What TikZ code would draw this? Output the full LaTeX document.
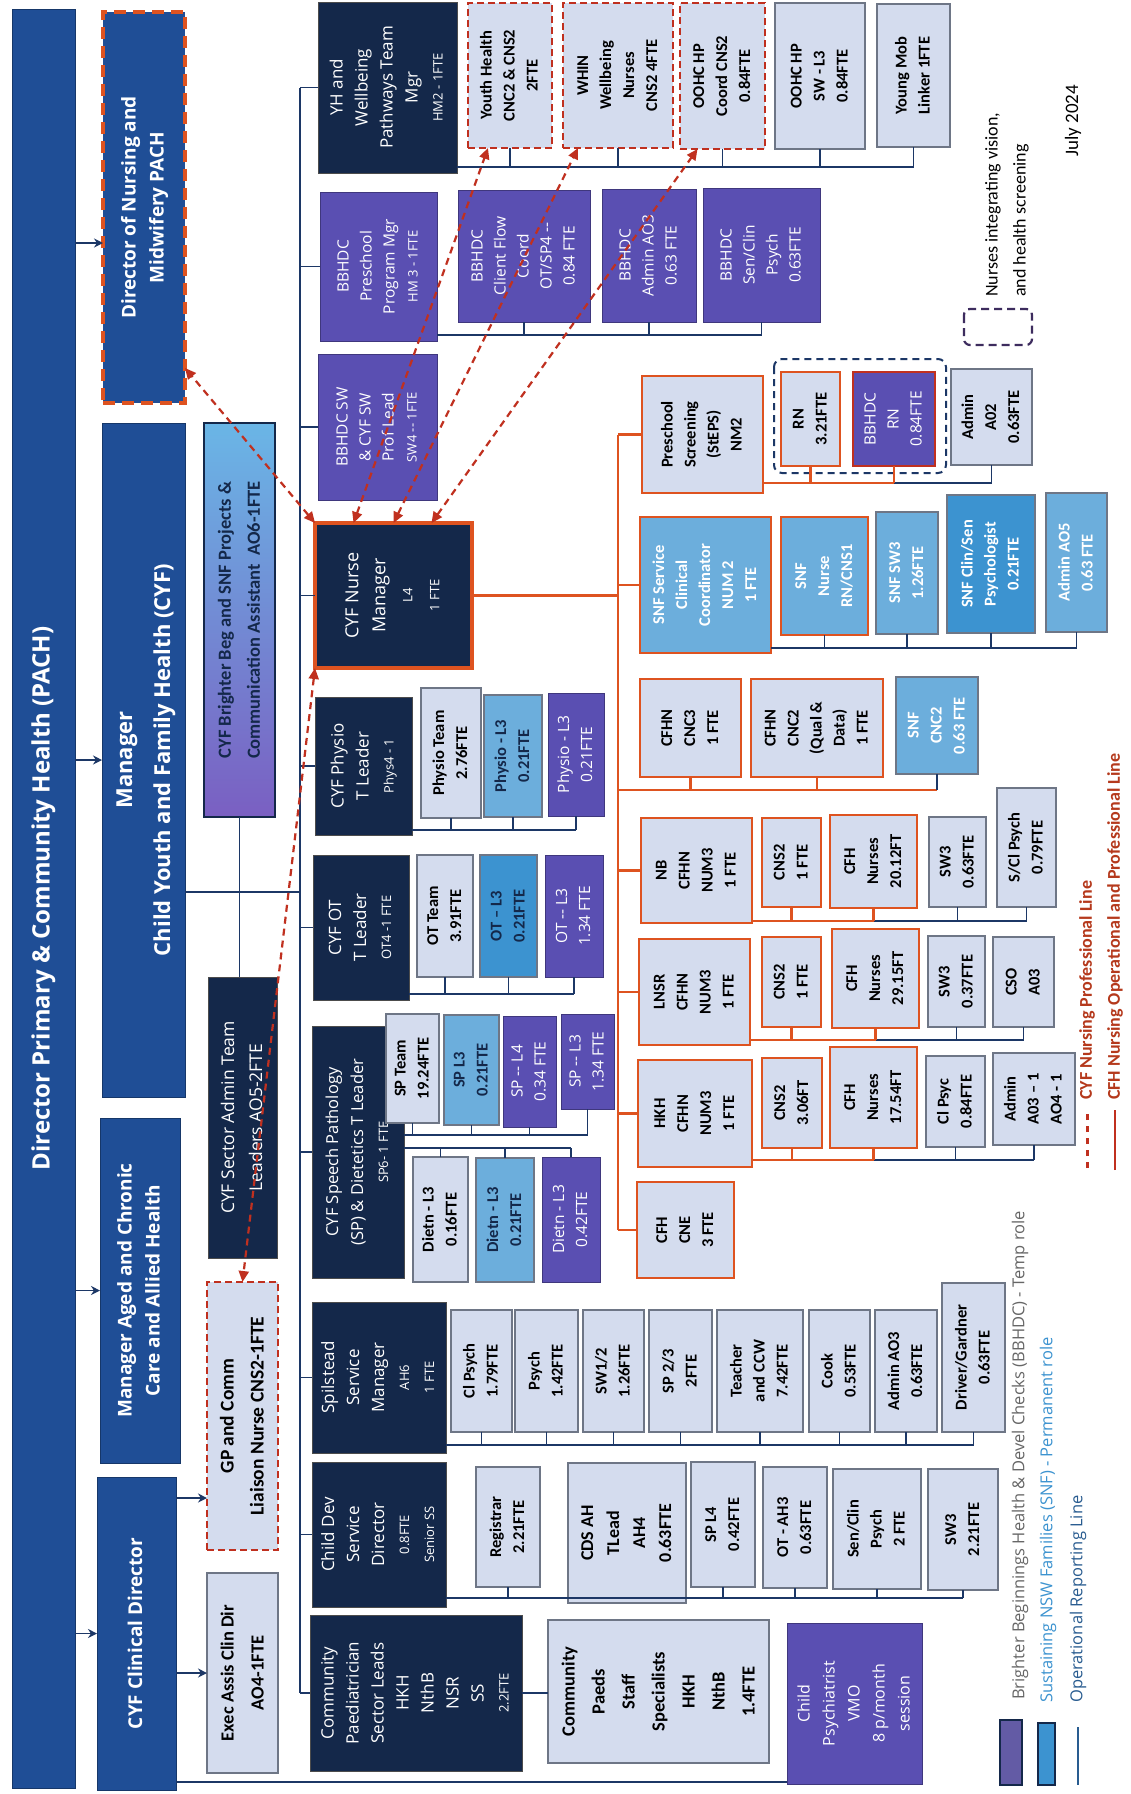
\documentclass[tikz,border=0pt]{standalone}
\usepackage{fontspec}
\setmainfont{Carlito}
\newfontfamily\osans{Open Sans}
\usepackage{graphicx}
\usetikzlibrary{arrows.meta}
\definecolor{cblue}{HTML}{1F4E96}
\definecolor{cnavy}{HTML}{14284A}
\definecolor{cpurp}{HTML}{5A4FB2}
\definecolor{cpale}{HTML}{D4DCEE}
\definecolor{cgrey}{HTML}{6E7686}
\definecolor{csnf}{HTML}{6CAEDC}
\definecolor{csnfd}{HTML}{3C93D0}
\definecolor{corange}{HTML}{DE5320}
\definecolor{cred}{HTML}{C0301F}
\definecolor{cline}{HTML}{1C3766}
\definecolor{csky}{HTML}{6AB6E6}
\definecolor{clav}{HTML}{7A5FC2}
\definecolor{ctxt}{HTML}{B5391C}

\newcommand{\vt}[1]{\rotatebox{90}{\begin{tabular}{@{}c@{}}#1\end{tabular}}}
\newcommand{\sm}{\fontsize{13}{16}\selectfont}

\tikzset{
    boxat/.style n args={4}{
           at={({(#1+#3)/2},{(#2+#4)/2})},
           minimum width={(#3-#1)*1pt},
           minimum height={(#4-#2)*1pt},
           },
    orgbase/.style={draw, inner sep=0pt, outer sep=0pt},
    mgrbox/.style={orgbase, fill=cblue, draw=cblue!70!black, text=white,
           font=\osans\bfseries\fontsize{19}{28}\selectfont},
    navybox/.style={orgbase, fill=cnavy, draw=black!70, text=white,
           font=\osans\fontsize{17}{25}\selectfont},
    purpbox/.style={orgbase, fill=cpurp, draw=cpurp!70!black, text=white,
           font=\osans\fontsize{15.5}{23}\selectfont},
    palebox/.style={orgbase, fill=cpale, draw=cgrey, line width=1.2pt,
           font=\bfseries\fontsize{16.5}{23}\selectfont},
    snfbox/.style={palebox, fill=csnf},
    snfdbox/.style={palebox, fill=csnfd},
    nursebox/.style={palebox, draw=corange, line width=2.4pt},
    tempbox/.style={palebox, draw=cred, line width=2.4pt, dash pattern=on 7pt off 4pt},
    opline/.style={draw=cline, line width=1.8pt},
    nline/.style={draw=corange, line width=2.8pt},
    report/.style={opline, -{Stealth[length=9pt,width=9pt]}},
    profline/.style={draw=cred, line width=2.2pt, dash pattern=on 7pt off 5pt,
           {Triangle[length=11pt,width=10pt]}-{Triangle[length=11pt,width=10pt]}},
    legend/.style={inner sep=0pt, font=\osans\fontsize{16.5}{20}\selectfont},
}

\begin{document}
\begin{tikzpicture}[x=1pt, y=-1pt]
	\useasboundingbox[fill=white] (0,0) rectangle (1130,1794);

	% directors and managers
	\node[mgrbox, boxat={12}{9}{75}{1788}, font=\osans\bfseries\fontsize{24}{30}\selectfont] (pach)
		{\vt{Director Primary \& Community Health (PACH)}};
	\node[mgrbox, boxat={103}{12}{185}{403}, draw=corange, line width=4pt,
		dash pattern=on 12pt off 7pt] (dnm) {\vt{Director of Nursing and\\Midwifery PACH}};
	\node[mgrbox, boxat={102}{423}{185}{1097}, font=\osans\bfseries\fontsize{22}{38}\selectfont] (mcyf)
		{\vt{Manager\\Child Youth and Family Health (CYF)}};
	\node[mgrbox, boxat={100}{1118}{180}{1463}] (magd) {\vt{Manager Aged and Chronic\\Care and Allied Health}};
	\node[mgrbox, boxat={97}{1477}{176}{1790}] (mclin) {\vt{CYF Clinical Director}};

	% second column
	\node[palebox, boxat={204}{423}{275}{817}, top color=csky, bottom color=clav, draw=cnavy,
		text=cnavy, font=\bfseries\fontsize{18.5}{29}\selectfont] (brt)
		{\vt{CYF Brighter Beg and SNF Projects \&\\Communication Assistant\ \ AO6-1FTE}};
	\node[navybox, boxat={208}{977}{277}{1258}, font=\osans\fontsize{17.5}{28}\selectfont] (sadm)
		{\vt{CYF Sector Admin Team\\Leaders AO5-2FTE}};
	\node[tempbox, boxat={207}{1282}{278}{1550}, font=\bfseries\fontsize{19.5}{30}\selectfont] (gp)
		{\vt{GP and Comm\\Liaison Nurse CNS2-1FTE}};
	\node[palebox, boxat={207}{1573}{278}{1773}, font=\bfseries\fontsize{18.5}{30}\selectfont] (exa)
		{\vt{Exec Assis Clin Dir\\AO4-1FTE}};

	% team leaders
	\node[navybox, boxat={318}{2}{457}{173}] (yh) {\vt{YH and\\Wellbeing\\Pathways Team\\Mgr\\{\sm HM2 - 1FTE}}};
	\node[purpbox, boxat={320}{192}{437}{341}] (bpre) {\vt{BBHDC\\Preschool\\Program Mgr\\{\sm HM 3 - 1FTE}}};
	\node[purpbox, boxat={318}{354}{437}{500}] (bsw) {\vt{BBHDC SW\\\& CYF SW\\Prof Lead\\{\sm SW4 -- 1FTE}}};
	\node[navybox, boxat={315}{523}{472}{668}, draw=corange, line width=4pt, font=\osans\fontsize{18}{27}\selectfont] (nm)
		{\vt{CYF Nurse\\Manager\\{\sm L4}\\{\sm 1 FTE}}};
	\node[navybox, boxat={315}{697}{412}{835}] (phl) {\vt{CYF Physio\\T Leader\\{\sm Phys4 - 1}}};
	\node[navybox, boxat={313}{855}{409}{1000}] (otl) {\vt{CYF OT\\T Leader\\{\sm OT4 -1 FTE}}};
	\node[navybox, boxat={312}{1026}{404}{1278}, font=\osans\fontsize{16.5}{25}\selectfont] (spl)
		{\vt{CYF Speech Pathology\\(SP) \& Dietetics T Leader\\{\sm SP6- 1 FTE}}};
	\node[navybox, boxat={312}{1302}{446}{1453}] (sps) {\vt{Spilstead\\Service\\Manager\\{\sm AH6}\\{\sm 1 FTE}}};
	\node[navybox, boxat={312}{1462}{446}{1607}] (cds) {\vt{Child Dev\\Service\\Director\\{\sm 0.8FTE}\\{\sm Senior SS}}};
	\node[navybox, boxat={310}{1615}{522}{1771}] (cpl)
		{\vt{Community\\Paediatrician\\Sector Leads\\HKH\\NthB\\NSR\\SS\\{\sm 2.2FTE}}};

	% youth health team
	\node[tempbox, boxat={468}{3}{552}{148}] (yth) {\vt{Youth Health\\CNC2 \& CNS2\\2FTE}};
	\node[tempbox, boxat={563}{3}{673}{148}] (whin) {\vt{WHIN\\Wellbeing\\Nurses\\CNS2 4FTE}};
	\node[tempbox, boxat={680}{3}{765}{149}] (oohc) {\vt{OOHC HP\\Coord CNS2\\0.84FTE}};
	\node[palebox, boxat={775}{3}{865}{149}] (oosw) {\vt{OOHC HP\\SW - L3\\0.84FTE}};
	\node[palebox, boxat={877}{4}{950}{147}] (ymob) {\vt{Young Mob\\Linker 1FTE}};

	% BBHDC team
	\node[purpbox, boxat={458}{190}{590}{322}] (bcf) {\vt{BBHDC\\Client Flow\\Coord\\OT/SP4 --\\0.84 FTE}};
	\node[purpbox, boxat={602}{189}{696}{322}] (bad) {\vt{BBHDC\\Admin AO3\\0.63 FTE}};
	\node[purpbox, boxat={703}{188}{820}{322}] (bps) {\vt{BBHDC\\Sen/Clin\\Psych\\0.63FTE}};

	% physio, OT, speech
	\node[palebox, boxat={421}{688}{481}{818}] (ph1) {\vt{Physio Team\\2.76FTE}};
	\node[snfbox, boxat={484}{695}{542}{817}, text=cnavy] (ph2) {\vt{Physio - L3\\0.21FTE}};
	\node[purpbox, boxat={548}{693}{604}{816}] (ph3) {\vt{Physio - L3\\0.21FTE}};
	\node[palebox, boxat={417}{855}{473}{977}] (ot1) {\vt{OT Team\\3.91FTE}};
	\node[snfdbox, boxat={480}{855}{537}{977}, text=cnavy] (ot2) {\vt{OT -- L3\\0.21FTE}};
	\node[purpbox, boxat={545}{855}{603}{977}] (ot3) {\vt{OT -- L3\\1.34 FTE}};
	\node[palebox, boxat={386}{1014}{439}{1123}] (sp1) {\vt{SP Team\\19.24FTE}};
	\node[snfbox, boxat={444}{1015}{499}{1125}, text=cnavy] (sp2) {\vt{SP L3\\0.21FTE}};
	\node[purpbox, boxat={503}{1016}{556}{1127}] (sp3) {\vt{SP -- L4\\0.34 FTE}};
	\node[purpbox, boxat={561}{1014}{614}{1109}] (sp4) {\vt{SP -- L3\\1.34 FTE}};
	\node[palebox, boxat={413}{1157}{468}{1282}] (dt1) {\vt{Dietn - L3\\0.16FTE}};
	\node[snfbox, boxat={476}{1158}{534}{1282}, text=cnavy] (dt2) {\vt{Dietn - L3\\0.21FTE}};
	\node[purpbox, boxat={542}{1157}{600}{1282}] (dt3) {\vt{Dietn - L3\\0.42FTE}};

	% spilstead team
	\node[palebox, boxat={451}{1310}{512}{1432}] (s1) {\vt{Cl Psych\\1.79FTE}};
	\node[palebox, boxat={515}{1310}{578}{1432}] (s2) {\vt{Psych\\1.42FTE}};
	\node[palebox, boxat={583}{1310}{644}{1432}] (s3) {\vt{SW1/2\\1.26FTE}};
	\node[palebox, boxat={649}{1310}{712}{1432}] (s4) {\vt{SP 2/3\\2FTE}};
	\node[palebox, boxat={717}{1310}{803}{1432}] (s5) {\vt{Teacher\\and CCW\\7.42FTE}};
	\node[palebox, boxat={809}{1310}{870}{1432}] (s6) {\vt{Cook\\0.53FTE}};
	\node[palebox, boxat={875}{1310}{937}{1432}] (s7) {\vt{Admin AO3\\0.63FTE}};
	\node[palebox, boxat={942}{1283}{1005}{1432}] (s8) {\vt{Driver/Gardner\\0.63FTE}};

	% child development team
	\node[palebox, boxat={476}{1467}{540}{1587}] (c1) {\vt{Registrar\\2.21FTE}};
	\node[palebox, boxat={568}{1463}{686}{1603}, font=\bfseries\fontsize{18}{26}\selectfont] (c2) {\vt{CDS AH\\TLead\\AH4\\0.63FTE}};
	\node[palebox, boxat={691}{1462}{755}{1587}] (c3) {\vt{SP L4\\0.42FTE}};
	\node[palebox, boxat={763}{1467}{827}{1588}] (c4) {\vt{OT - AH3\\0.63FTE}};
	\node[palebox, boxat={833}{1469}{921}{1589}] (c5) {\vt{Sen/Clin\\Psych\\2 FTE}};
	\node[palebox, boxat={928}{1469}{998}{1590}] (c6) {\vt{SW3\\2.21FTE}};
	\node[palebox, boxat={548}{1620}{769}{1763}, font=\bfseries\fontsize{18.5}{30}\selectfont] (cps)
		{\vt{Community\\Paeds\\Staff\\Specialists\\HKH\\NthB\\1.4FTE}};
	\node[purpbox, boxat={787}{1623}{922}{1784}, font=\osans\fontsize{16}{25}\selectfont] (cpsy)
		{\vt{Child\\Psychiatrist\\VMO\\8 p/month\\session}};

	% nursing teams
	\draw[cline, line width=2pt, dash pattern=on 7pt off 5pt, rounded corners=8pt] (774,359) rectangle (946,473);
	\node[nursebox, boxat={642}{376}{763}{493}] (pss) {\vt{Preschool\\Screening\\(StEPS)\\NM2}};
	\node[nursebox, boxat={781}{372}{840}{466}] (rn) {\vt{RN\\3.21FTE}};
	\node[purpbox, boxat={853}{372}{935}{466}, draw=cred, line width=2.5pt] (brn) {\vt{BBHDC\\RN\\0.84FTE}};
	\node[palebox, boxat={951}{369}{1032}{465}] (ad2) {\vt{Admin\\A02\\0.63FTE}};
	\node[snfbox, boxat={640}{517}{771}{653}, draw=corange, line width=2.4pt, text=white] (snfs)
		{\vt{SNF Service\\Clinical\\Coordinator\\NUM 2\\1 FTE}};
	\node[snfbox, boxat={781}{517}{868}{635}, draw=corange, line width=2.4pt, text=white] (snfn)
		{\vt{SNF\\Nurse\\RN/CNS1}};
	\node[snfbox, boxat={876}{512}{938}{634}, text=white] (snfw) {\vt{SNF SW3\\1.26FTE}};
	\node[snfdbox, boxat={947}{495}{1035}{633}, text=white] (snfp) {\vt{SNF Clin/Sen\\Psychologist\\0.21FTE}};
	\node[snfbox, boxat={1046}{493}{1107}{632}, text=white] (snfa) {\vt{Admin AO5\\0.63 FTE}};
	\node[nursebox, boxat={640}{679}{741}{777}] (cnc3) {\vt{CFHN\\CNC3\\1 FTE}};
	\node[nursebox, boxat={751}{679}{883}{777}] (cnc2) {\vt{CFHN\\CNC2\\(Qual \&\\Data)\\1 FTE}};
	\node[snfbox, boxat={896}{677}{978}{774}, text=white] (scnc) {\vt{SNF\\CNC2\\0.63 FTE}};

	\node[nursebox, boxat={641}{818}{752}{923}] (nb) {\vt{NB\\CFHN\\NUM3\\1 FTE}};
	\node[nursebox, boxat={762}{818}{821}{907}] (nb1) {\vt{CNS2\\1 FTE}};
	\node[nursebox, boxat={830}{815}{917}{908}] (nb2) {\vt{CFH\\Nurses\\20.12FT}};
	\node[palebox, boxat={929}{817}{986}{907}] (nb3) {\vt{SW3\\0.63FTE}};
	\node[palebox, boxat={997}{788}{1056}{907}] (nb4) {\vt{S/Cl Psych\\0.79FTE}};
	\node[nursebox, boxat={639}{939}{750}{1045}] (ln) {\vt{LNSR\\CFHN\\NUM3\\1 FTE}};
	\node[nursebox, boxat={762}{937}{821}{1027}] (ln1) {\vt{CNS2\\1 FTE}};
	\node[nursebox, boxat={832}{929}{919}{1028}] (ln2) {\vt{CFH\\Nurses\\29.15FT}};
	\node[palebox, boxat={928}{936}{985}{1027}] (ln3) {\vt{SW3\\0.37FTE}};
	\node[palebox, boxat={993}{937}{1054}{1027}] (ln4) {\vt{CSO\\A03}};
	\node[nursebox, boxat={638}{1060}{752}{1167}] (hk) {\vt{HKH\\CFHN\\NUM3\\1 FTE}};
	\node[nursebox, boxat={762}{1058}{822}{1148}] (hk1) {\vt{CNS2\\3.06FT}};
	\node[nursebox, boxat={830}{1047}{917}{1148}] (hk2) {\vt{CFH\\Nurses\\17.54FT}};
	\node[palebox, boxat={926}{1056}{985}{1147}] (hk3) {\vt{Cl Psyc\\0.84FTE}};
	\node[palebox, boxat={993}{1053}{1075}{1145}] (hk4) {\vt{Admin\\A03 -- 1\\AO4 - 1}};
	\node[nursebox, boxat={637}{1182}{734}{1278}] (cne) {\vt{CFH\\CNE\\3 FTE}};

	% operational lines
	\coordinate (spine) at (300,0);
	\draw[opline] (spine |- yh) -- (spine |- cpl);
	\foreach \n in {yh,bpre,bsw,nm,phl,otl,spl,sps,cds,cpl}
		\draw[opline] (spine |- \n) -- (\n.west);
	\draw[opline] (mcyf.east |- 0,892) -- (spine |- 0,892);
	\draw[opline] (brt.south) -- (brt.south |- sadm.north);
	\draw[report] (pach.east |- 0,243) -- (dnm.west |- 0,243);
	\foreach \n in {mcyf,magd,mclin}
		\draw[report] (pach.east |- \n) -- (\n.west);
	\draw[report] (mclin.east |- 0,1498) -- (gp.west |- 0,1498);
	\draw[report] (mclin.east |- exa) -- (exa.west);
	\draw[opline] (mclin.east |- 0,1782) -- (cpsy.west |- 0,1782);

	\draw[opline] (yh.east |- 0,167) -- (ymob |- 0,167);
	\foreach \n in {yth,whin,oohc,oosw,ymob}
		\draw[opline] (\n.south) -- (\n |- 0,167);
	\draw[opline] (bpre.east |- 0,335) -- (bps |- 0,335);
	\foreach \n in {bcf,bad,bps}
		\draw[opline] (\n.south) -- (\n |- 0,335);
	\draw[opline] (phl.east |- 0,830) -- (ph3 |- 0,830);
	\foreach \n in {ph1,ph2,ph3}
		\draw[opline] (\n.south) -- (\n |- 0,830);
	\draw[opline] (otl.east |- 0,994) -- (ot3 |- 0,994);
	\foreach \n in {ot1,ot2,ot3}
		\draw[opline] (\n.south) -- (\n |- 0,994);
	\draw[opline] (spl.east |- 0,1135) -- (sp4 |- 0,1135);
	\foreach \n in {sp1,sp2,sp3,sp4}
		\draw[opline] (\n.south) -- (\n |- 0,1135);
	\draw[opline] (spl.east |- 0,1148) -- (dt3 |- 0,1148);
	\foreach \n in {dt1,dt2,dt3}
		\draw[opline] (\n.north) -- (\n |- 0,1148);
	\draw[opline] (sps.east |- 0,1445) -- (s8 |- 0,1445);
	\foreach \n in {s1,s2,s3,s4,s5,s6,s7,s8}
		\draw[opline] (\n.south) -- (\n |- 0,1445);
	\draw[opline] (cds.east |- 0,1598) -- (c6 |- 0,1598);
	\foreach \n in {c1,c3,c4,c5,c6}
		\draw[opline] (\n.south) -- (\n |- 0,1598);
	\draw[opline] (cpl.east) -- (cpl.east -| cps.west);

	% nursing lines
	\coordinate (obus) at (618,0);
	\draw[nline] (nm.east) -- (nm.east -| obus);
	\draw[nline] (obus |- pss) -- (obus |- cne);
	\foreach \n in {pss,snfs,nb,ln,hk,cne}
		\draw[nline] (obus |- \n) -- (\n.west);
	\draw[nline] (obus |- 0,790) -- (scnc |- 0,790);
	\foreach \n in {cnc3,cnc2}
		\draw[nline] (\n.south) -- (\n |- 0,790);
	\draw[opline] (scnc.south) -- (scnc |- 0,790);
	\draw[nline] (pss.east |- 0,483) -- (brn |- 0,483);
	\draw[opline] (brn |- 0,483) -- (ad2 |- 0,483);
	\foreach \n in {rn,brn}
		\draw[nline] (\n.south) -- (\n |- 0,483);
	\draw[opline] (ad2.south) -- (ad2 |- 0,483);
	\draw[opline] (snfs.east |- 0,648) -- (snfa |- 0,648);
	\foreach \n in {snfn,snfw,snfp,snfa}
		\draw[opline] (\n.south) -- (\n |- 0,648);
	\foreach \l/\y in {nb/921,ln/1040,hk/1160}{
		\draw[nline] (\l.east |- 0,\y) -- (\l2 |- 0,\y);
		\draw[opline] (\l2 |- 0,\y) -- (\l4 |- 0,\y);
		\foreach \n in {\l1,\l2}
			\draw[nline] (\n.south) -- (\n |- 0,\y);
		\foreach \n in {\l3,\l4}
			\draw[opline] (\n.south) -- (\n |- 0,\y);
	}

	% professional lines
	\draw[profline] (nm.north west) -- ([yshift=35pt]dnm.south east);
	\draw[profline] ([xshift=-40pt]nm.north) -- ([xshift=-22pt]yth.south);
	\draw[profline] (nm.north) -- ([xshift=-40pt]whin.south);
	\draw[profline] ([xshift=38pt]nm.north) -- ([xshift=-25pt]oohc.south);
	\draw[profline] (nm.south west) -- (gp.north);

	% legend
	\draw[cline!80!purple, line width=2.2pt, dash pattern=on 8pt off 5pt, rounded corners=6pt] (964,309) rectangle (1032,345);
	\node[legend, anchor=south, font=\fontsize{18}{28}\selectfont] (nleg) at (1006,297)
		{\rotatebox{90}{\begin{tabular}{@{}l@{}}Nurses integrating vision,\\and health screening\end{tabular}}};
	\node[legend, font=\fontsize{19}{22}\selectfont] (date) at (1073,121) {\rotatebox{90}{July 2024}};
	\draw[fill=cpurp!75!gray, draw=cnavy, line width=1.5pt] (1000,1720) rectangle (1022,1785);
	\draw[fill=csnfd, draw=cnavy, line width=1.5pt] (1038,1723) rectangle (1055,1785);
	\draw[cline!60!csnfd, line width=2.5pt] (1078,1727) -- (1078,1785);
	\node[legend, anchor=south, text=black!60] (lbb) at (1020,1700)
		{\rotatebox{90}{Brighter Beginnings Health \& Devel Checks (BBHDC) - Temp role}};
	\node[legend, anchor=south, text=csnfd] (lsnf) at (1048,1703)
		{\rotatebox{90}{Sustaining NSW Families (SNF) - Permanent role}};
	\node[legend, anchor=south, text=cline!60!csnfd] (lop) at (1078,1703)
		{\rotatebox{90}{Operational Reporting Line}};
	\draw[cred, line width=3pt, dash pattern=on 6pt off 6pt] (1087,1168) -- (1087,1110);
	\node[legend, anchor=south, text=ctxt, font=\bfseries\fontsize{18}{21}\selectfont] (lprof) at (1087,1100)
		{\rotatebox{90}{CYF Nursing Professional Line}};
	\draw[cred, line width=2.5pt] (1115,1170) -- (1115,1110);
	\node[legend, anchor=south, text=ctxt, font=\bfseries\fontsize{18}{21}\selectfont] (lcfh) at (1115,1100)
		{\rotatebox{90}{CFH Nursing Operational and Professional Line}};
\end{tikzpicture}
\end{document}
